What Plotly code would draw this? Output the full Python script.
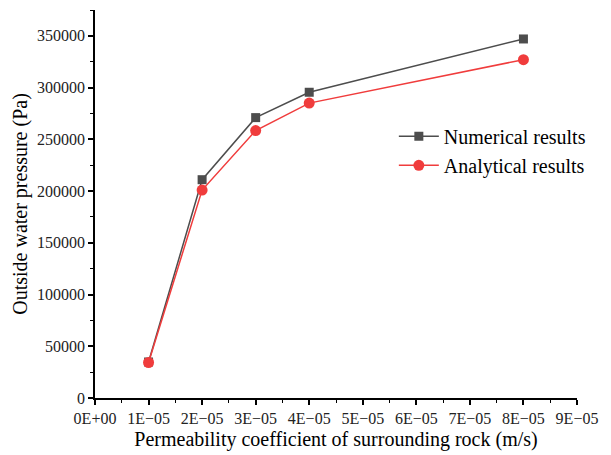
import plotly.graph_objects as go

permeability = [1e-5, 2e-5, 3e-5, 4e-5, 8e-5]
numerical = [34800, 211000, 271000, 295500, 347000]
analytical = [34300, 201000, 258500, 285000, 327000]

x_tick_vals = [0, 1e-5, 2e-5, 3e-5, 4e-5, 5e-5, 6e-5, 7e-5, 8e-5, 9e-5]
x_tick_text = ["0E+00", "1E−05", "2E−05", "3E−05", "4E−05", "5E−05", "6E−05", "7E−05", "8E−05", "9E−05"]
y_tick_vals = [0, 50000, 100000, 150000, 200000, 250000, 300000, 350000]
y_tick_text = [str(v) for v in y_tick_vals]

FONT = "Liberation Serif, Times New Roman, serif"

fig = go.Figure()
fig.add_trace(go.Scatter(
    x=permeability, y=numerical, name="Numerical results",
    mode="lines+markers",
    line=dict(color="#4d4d4d", width=1.5),
    marker=dict(symbol="square", size=9, color="#4d4d4d"),
))
fig.add_trace(go.Scatter(
    x=permeability, y=analytical, name="Analytical results",
    mode="lines+markers",
    line=dict(color="#f03c3c", width=1.5),
    marker=dict(symbol="circle", size=11, color="#f03c3c"),
))

axis_common = dict(
    showline=True, linecolor="black", linewidth=1.5,
    ticks="outside", ticklen=5, tickwidth=1.5, tickcolor="black",
    showgrid=False, zeroline=False,
    tickfont=dict(family=FONT, size=16, color="#222"),
)

fig.update_xaxes(
    range=[0, 9e-5], tickmode="array", tickvals=x_tick_vals, ticktext=x_tick_text,
    title=dict(text="Permeability coefficient of surrounding rock (m/s)",
               font=dict(family=FONT, size=20, color="black"), standoff=6),
    minor=dict(ticks="outside", ticklen=3, tickwidth=1, tickcolor="black",
               tickmode="linear", tick0=0, dtick=0.5e-5),
    **axis_common,
)
fig.update_yaxes(
    range=[0, 375000], tickmode="array", tickvals=y_tick_vals, ticktext=y_tick_text,
    title=dict(text="Outside water pressure (Pa)",
               font=dict(family=FONT, size=20, color="black"), standoff=4),
    minor=dict(ticks="outside", ticklen=3, tickwidth=1, tickcolor="black",
               tickmode="linear", tick0=0, dtick=25000),
    **axis_common,
)

fig.update_layout(
    width=603, height=447,
    margin=dict(l=87, r=34, t=2, b=57),
    paper_bgcolor="white", plot_bgcolor="white",
    showlegend=True,
    legend=dict(x=0.62, y=0.637, xanchor="left", yanchor="middle",
                font=dict(family=FONT, size=20, color="black"),
                bgcolor="rgba(0,0,0,0)", itemwidth=40, tracegroupgap=0),
    font=dict(family=FONT),
)

fig.write_html("out.html")
